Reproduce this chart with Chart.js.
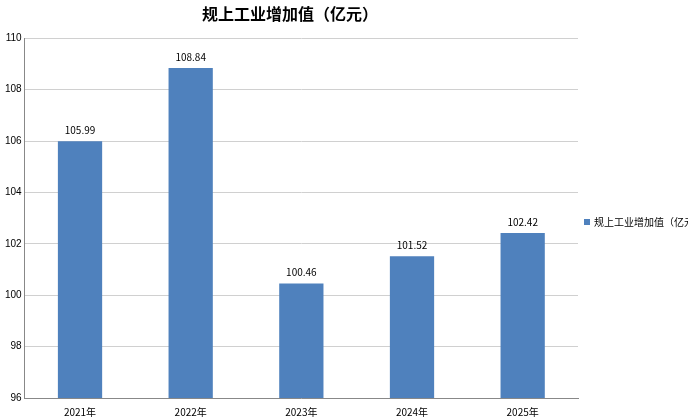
<!DOCTYPE html>
<html lang="zh">
<head>
  <meta charset="UTF-8">
  <title>规上工业增加值</title>
  <script src="https://cdn.jsdelivr.net/npm/chart.js"></script>
  <style>
    html, body { margin: 0; padding: 0; background: #fff; }
    .wrap { width: 688px; height: 418px; }
  </style>
</head>
<body>
  <div class="wrap"><canvas id="c"></canvas></div>
  <script>
    const categories = ['2021年', '2022年', '2023年', '2024年', '2025年'];
    const values = [105.99, 108.84, 100.46, 101.52, 102.42];
    const seriesName = '规上工业增加值（亿元）';

    // value labels above bars + legend at the right
    const extras = {
      id: 'extras',
      afterDatasetsDraw(chart) {
        const ctx = chart.ctx;
        const meta = chart.getDatasetMeta(0);
        ctx.save();
        ctx.font = '10px "Noto Sans CJK SC", sans-serif';
        ctx.fillStyle = '#000';
        ctx.textAlign = 'center';
        ctx.textBaseline = 'bottom';
        meta.data.forEach((bar, i) => {
          ctx.fillText(values[i].toFixed(2), bar.x, bar.y - 6);
        });
        const lx = chart.chartArea.right + 6;
        const ly = 222;
        ctx.fillStyle = '#4f81bd';
        ctx.fillRect(lx, ly - 3, 6, 6);
        ctx.fillStyle = '#000';
        ctx.textAlign = 'left';
        ctx.textBaseline = 'middle';
        ctx.fillText(seriesName, lx + 10, ly);
        ctx.restore();
      }
    };

    new Chart(document.getElementById('c'), {
      type: 'bar',
      data: {
        labels: categories,
        datasets: [{
          label: seriesName,
          data: values,
          backgroundColor: '#4f81bd',
          barPercentage: 0.4,
          categoryPercentage: 1
        }]
      },
      options: {
        responsive: true,
        maintainAspectRatio: false,
        animation: false,
        layout: { padding: { top: 4, right: 110, left: 2, bottom: 0 } },
        plugins: {
          title: {
            display: true,
            text: seriesName,
            color: '#000',
            font: { family: '"Noto Sans CJK SC", sans-serif', size: 16, weight: 'bold' },
            padding: { top: 0, bottom: 15 }
          },
          legend: { display: false },
          tooltip: { enabled: false }
        },
        scales: {
          x: {
            grid: { display: false },
            border: { color: '#888' },
            ticks: { padding: 0, color: '#000', font: { family: '"Noto Sans CJK SC", sans-serif', size: 10 } }
          },
          y: {
            min: 96, max: 110,
            ticks: { stepSize: 2, color: '#000', font: { size: 10 } },
            grid: { color: '#d0d0d0', drawTicks: false },
            border: { color: '#888' }
          }
        }
      },
      plugins: [extras]
    });
  </script>
</body>
</html>
